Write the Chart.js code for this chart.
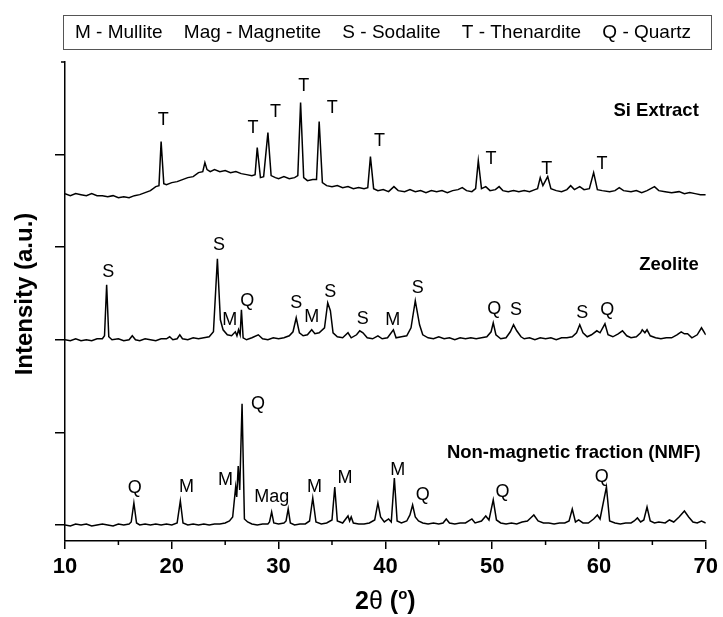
<!DOCTYPE html>
<html>
<head>
<meta charset="utf-8">
<title>XRD patterns</title>
<script src="https://cdn.jsdelivr.net/npm/chart.js@4.4.0/dist/chart.umd.min.js"></script>
<style>
  html, body { margin: 0; padding: 0; background: #fff; }
  #wrap { width: 723px; height: 617px; }
</style>
</head>
<body>
<div id="wrap"><canvas id="xrd" width="723" height="617"></canvas></div>
<script>
// 2θ (deg) vs intensity (a.u., patterns offset by hand like the original)
const siExtract = [[10,331],[10.5,329],[11,331],[11.5,330],[12,329],[12.5,331],[13,329],[13.5,329],[14,328],[14.5,329],[15,327],[15.5,328],[16,327],[16.5,329],[17,330],[17.5,332],[18,334],[18.5,338],[18.8,339],[19,383],[19.25,341],[19.5,340],[20,342],[20.5,343],[21,345],[21.5,347],[22,348],[22.5,352],[22.9,353],[23.1,362],[23.3,355],[23.6,353],[24,355],[24.5,353],[25,354],[25.5,352],[26,353],[26.5,351],[27,350],[27.5,349],[27.8,350],[28,377],[28.3,347],[28.6,348],[29,392],[29.3,349],[29.7,347],[30,346],[30.5,348],[31,346],[31.5,347],[31.8,349],[32.06,422],[32.35,347],[32.7,344],[33.2,345],[33.55,345],[33.8,403],[34.1,342],[34.5,339],[35,338],[35.5,339],[36,337],[36.5,338],[37,336],[37.5,337],[38,336],[38.35,337],[38.6,368],[38.9,336],[39.3,334],[39.8,335],[40.3,333],[40.8,338],[41.2,334],[41.8,333],[42.3,335],[42.8,333],[43.3,334],[43.8,332],[44.3,334],[44.8,333],[45.3,334],[45.8,332],[46.3,334],[46.8,335],[47.2,337],[47.6,334],[48.1,333],[48.45,336],[48.7,364],[49,336],[49.4,338],[49.8,334],[50.3,335],[50.65,338],[51,334],[51.5,333],[52,334],[52.5,333],[53,334],[53.5,333],[54,335],[54.25,336],[54.5,347],[54.75,339],[55.2,348],[55.5,336],[56,334],[56.5,333],[57,335],[57.35,339],[57.7,335],[58.2,338],[58.6,335],[59.1,336],[59.5,352],[59.85,335],[60.3,334],[61,333],[61.5,334],[61.9,337],[62.3,334],[63,333],[63.5,334],[64,332],[64.5,334],[65.2,338],[65.6,334],[66.2,333],[66.8,332],[67.5,333],[68,331],[68.5,332],[69,331],[69.5,330],[70,330]];

const zeolite = [[10,185],[10.5,184],[11,186],[11.5,184],[12,185],[12.5,184],[13,186],[13.5,186],[13.7,189],[13.9,240],[14.1,188],[14.4,185],[15,186],[15.5,184],[16,185],[16.3,189],[16.6,185],[17,184],[17.5,186],[18,185],[18.5,184],[19,186],[19.5,186],[19.8,188],[20.1,185],[20.5,186],[20.75,190],[21,186],[21.5,185],[22,187],[22.5,186],[23,187],[23.5,188],[23.9,193],[24.27,266],[24.55,205],[24.8,195],[25.2,190],[25.6,189],[25.95,193],[26.1,189],[26.25,195],[26.4,190],[26.52,215],[26.68,187],[27,185],[27.5,187],[28.1,190],[28.5,186],[29,185],[29.5,187],[30,186],[30.5,187],[31,189],[31.35,193],[31.65,207],[31.95,192],[32.3,189],[32.7,190],[33.1,195],[33.4,191],[33.8,192],[34.3,197],[34.6,222],[34.85,214],[35.1,192],[35.5,188],[36,187],[36.5,192],[36.8,187],[37.3,190],[37.6,194],[37.9,192],[38.3,187],[38.8,186],[39.3,189],[39.7,186],[40.2,187],[40.75,195],[41,187],[41.5,188],[42,189],[42.4,197],[42.8,224],[43.2,200],[43.5,190],[44,187],[44.5,186],[45,188],[45.5,186],[46,187],[46.5,185],[47,187],[47.5,186],[48,187],[48.5,186],[49,187],[49.5,188],[49.9,193],[50.1,202],[50.35,190],[50.8,186],[51.3,187],[51.7,193],[52,200],[52.3,194],[52.7,188],[53,186],[53.5,187],[54,185],[54.5,187],[55,186],[55.5,187],[56,185],[56.5,187],[57,187],[57.5,188],[57.9,192],[58.2,200],[58.5,192],[58.9,188],[59.3,190],[59.8,194],[60.1,192],[60.56,201],[60.85,190],[61.3,188],[61.8,191],[62.2,194],[62.6,189],[63,187],[63.5,188],[63.9,192],[64.05,195],[64.3,192],[64.5,195],[64.8,189],[65.3,187],[65.8,186],[66.3,187],[66.8,187],[67.3,190],[67.7,193],[68,191],[68.3,191],[68.7,187],[69.2,190],[69.6,197],[70,190]];

const nmf = [[10,0],[10.5,-1],[11,1],[11.5,0],[12,1],[12.5,-1],[13,0],[13.5,1],[14,0],[14.5,-1],[15,1],[15.5,0],[16,1],[16.2,3],[16.45,22],[16.7,2],[17,0],[17.5,1],[18,0],[18.5,1],[19,0],[19.5,1],[20,0],[20.5,2],[20.8,24],[21.05,2],[21.5,0],[22,1],[22.5,0],[23,1],[23.5,0],[24,1],[24.5,1],[25,2],[25.4,4],[25.7,8],[25.98,38],[26.08,28],[26.22,59],[26.36,35],[26.58,121],[26.8,6],[27.1,3],[27.5,1],[28,0],[28.5,1],[29,1],[29.15,3],[29.35,13],[29.55,2],[30,1],[30.5,2],[30.7,4],[30.9,16],[31.1,2],[31.5,0],[32,1],[32.5,1],[32.9,4],[33.2,27],[33.5,3],[34,1],[34.5,2],[35,5],[35.26,38],[35.5,4],[36,2],[36.5,9],[36.65,4],[36.8,8],[37,2],[37.5,1],[38,1],[38.5,2],[39,5],[39.3,22],[39.55,8],[39.9,3],[40.3,6],[40.55,3],[40.84,47],[41.1,4],[41.5,2],[42,4],[42.3,10],[42.55,20],[42.8,8],[43.1,4],[43.5,2],[44,1],[44.5,2],[45,1],[45.4,2],[45.7,6],[46,2],[46.5,1],[47,2],[47.5,2],[48.1,6],[48.4,2],[49,4],[49.4,9],[49.7,5],[50.1,25],[50.4,5],[50.8,2],[51.3,1],[51.8,2],[52.3,1],[52.8,3],[53.3,4],[53.6,7],[53.9,10],[54.3,4],[54.8,2],[55.3,2],[55.8,1],[56.3,2],[56.8,2],[57.2,4],[57.5,16],[57.8,3],[58.1,5],[58.5,2],[59,2],[59.5,6],[59.85,10],[60.1,6],[60.7,38],[61,4],[61.5,2],[62,1],[62.5,2],[63,2],[63.3,4],[63.6,7],[63.9,3],[64.2,5],[64.5,18],[64.8,4],[65.2,2],[65.6,3],[66.2,2],[66.6,5],[67,3],[67.5,8],[68,14],[68.4,8],[68.8,3],[69.2,2],[69.6,4],[70,2]];

// phase marks: [letter, 2θ, intensity] (label centre)
const siMarks = [['T',19.19,405],['T',27.6,397],['T',29.72,413],['T',32.36,438],['T',35.02,417],['T',39.44,384],['T',49.88,366],['T',55.11,356],['T',60.28,361]];
const zeoMarks = [['S',14.05,253],['S',24.42,280],['M',25.42,205],['Q',27.07,224],['S',31.65,222],['M',33.11,208],['S',34.83,233],['S',37.88,206],['M',40.68,205],['S',43.02,237],['Q',50.19,216],['S',52.24,215],['S',58.44,212],['Q',60.78,215]];
const nmfMarks = [['Q',16.54,37],['M',21.37,38],['M',25.02,45],['Q',28.07,121],['Mag',29.37,28],['M',33.36,38],['M',36.23,47],['M',41.15,55],['Q',43.49,30],['Q',50.96,33],['Q',60.25,48]];

// sample names: [text, right edge 2θ, intensity]
const sampleNames = [['Si Extract',69.35,414],['Zeolite',69.35,260],['Non-magnetic fraction (NMF)',69.53,72]];

const phaseKey = ['M - Mullite', 'Mag - Magnetite', 'S - Sodalite', 'T - Thenardite', 'Q - Quartz'];

const xTicksMinor = [15, 25, 35, 45, 55, 65];
const yTicks = [0, 92.5, 185, 277.5, 370];
const yTop = 462.5;

const FONT = "'Liberation Sans', Arial, sans-serif";
Chart.defaults.font.family = FONT;
Chart.defaults.color = '#000';

const toXY = arr => arr.map(p => ({ x: p[0], y: p[1] }));
const lineSet = (label, arr) => ({
  label,
  data: toXY(arr),
  borderColor: '#000',
  borderWidth: 1.5,
  pointRadius: 0,
  tension: 0,
  fill: false
});

// extra drawing: labels, key box, minor ticks, axis titles
const overlay = {
  id: 'overlay',
  afterDraw(chart) {
    const ctx = chart.ctx;
    const xs = chart.scales.x, ys = chart.scales.y;
    ctx.save();
    ctx.strokeStyle = '#000';
    ctx.fillStyle = '#000';
    ctx.lineWidth = 1.5;

    // minor x ticks
    xTicksMinor.forEach(v => {
      const px = xs.getPixelForValue(v);
      ctx.beginPath();
      ctx.moveTo(px, xs.top);
      ctx.lineTo(px, xs.top + 4);
      ctx.stroke();
    });
    // short tick at the top of the y axis
    const pyTop = ys.getPixelForValue(yTop);
    ctx.beginPath();
    ctx.moveTo(ys.right - 4, pyTop);
    ctx.lineTo(ys.right, pyTop);
    ctx.stroke();

    // phase letters over the peaks
    ctx.font = '18px ' + FONT;
    ctx.textAlign = 'center';
    ctx.textBaseline = 'middle';
    [...siMarks, ...zeoMarks, ...nmfMarks].forEach(([t, x, y]) => {
      ctx.fillText(t, xs.getPixelForValue(x), ys.getPixelForValue(y));
    });

    // sample names
    ctx.font = 'bold 18.5px ' + FONT;
    ctx.textAlign = 'right';
    sampleNames.forEach(([t, x, y]) => {
      ctx.fillText(t, xs.getPixelForValue(x), ys.getPixelForValue(y));
    });

    // y axis title
    ctx.save();
    ctx.translate(25, 294);
    ctx.rotate(-Math.PI / 2);
    ctx.textAlign = 'center';
    ctx.font = 'bold 24px ' + FONT;
    ctx.fillText('Intensity (a.u.)', 0, 0);
    ctx.restore();

    // phase key box
    ctx.lineWidth = 1;
    ctx.strokeStyle = '#555';
    ctx.strokeRect(63.5, 15.5, 648, 34);
    ctx.font = '19px ' + FONT;
    ctx.textAlign = 'left';
    const widths = phaseKey.map(t => ctx.measureText(t).width);
    const left = 75, right = 691;
    const gap = (right - left - widths.reduce((a, b) => a + b, 0)) / (phaseKey.length - 1);
    let cx = left;
    phaseKey.forEach((t, i) => {
      ctx.fillText(t, cx, 33);
      cx += widths[i] + gap;
    });

    // x axis title: 2θ (°)
    const parts = [
      { t: '2', f: 'bold 25px ' + FONT, dy: 0 },
      { t: 'θ', f: '25px ' + FONT, dy: 0 },
      { t: ' (', f: 'bold 25px ' + FONT, dy: 0 },
      { t: 'o', f: 'bold 15px ' + FONT, dy: -10 },
      { t: ')', f: 'bold 25px ' + FONT, dy: 0 }
    ];
    let total = 0;
    parts.forEach(p => { ctx.font = p.f; p.w = ctx.measureText(p.t).width; total += p.w; });
    let tx = (xs.left + xs.right) / 2 - total / 2;
    ctx.textBaseline = 'alphabetic';
    parts.forEach(p => {
      ctx.font = p.f;
      ctx.fillText(p.t, tx, 609 + p.dy);
      tx += p.w;
    });
    ctx.restore();
  }
};

new Chart(document.getElementById('xrd'), {
  type: 'line',
  data: {
    datasets: [
      lineSet('Si Extract', siExtract),
      lineSet('Zeolite', zeolite),
      lineSet('Non-magnetic fraction (NMF)', nmf)
    ]
  },
  options: {
    responsive: false,
    animation: false,
    devicePixelRatio: 1,
    layout: { padding: { top: 62, right: 16, left: 0, bottom: 0 } },
    plugins: {
      legend: { display: false },
      tooltip: { enabled: false }
    },
    scales: {
      x: {
        type: 'linear',
        min: 10,
        max: 70,
        afterFit: s => { s.height = 76; },
        ticks: {
          stepSize: 10,
          maxRotation: 0,
          padding: 5,
          color: '#000',
          font: { size: 22, weight: 'bold' }
        },
        grid: { drawOnChartArea: false, tickLength: 8, color: '#000', lineWidth: 1.5 },
        border: { color: '#000', width: 1.5 }
      },
      y: {
        min: -16,
        max: yTop,
        afterFit: s => { s.width = 65; },
        afterBuildTicks: s => { s.ticks = yTicks.map(v => ({ value: v })); },
        ticks: { display: false },
        grid: { drawOnChartArea: false, tickLength: 10, color: '#000', lineWidth: 1.5 },
        border: { color: '#000', width: 1.5 }
      }
    }
  },
  plugins: [overlay]
});
</script>
</body>
</html>
